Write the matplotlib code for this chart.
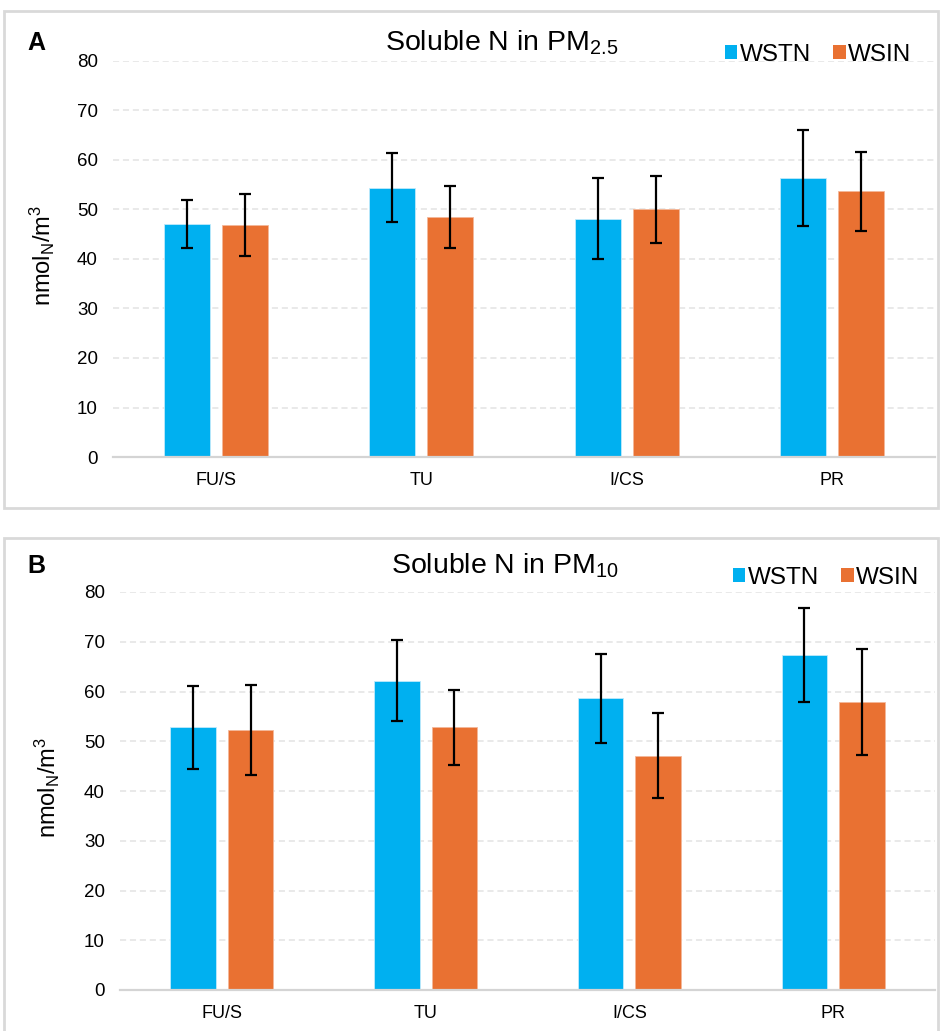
import matplotlib
matplotlib.use("Agg")
import matplotlib.pyplot as plt
from matplotlib.patches import Rectangle, Patch
import numpy as np

plt.rcParams['font.family'] = ['Liberation Sans', 'DejaVu Sans']
plt.rcParams['mathtext.fontset'] = 'custom'
plt.rcParams['mathtext.rm'] = 'Liberation Sans'
plt.rcParams['mathtext.it'] = 'Liberation Sans:italic'
plt.rcParams['mathtext.bf'] = 'Liberation Sans:bold'

# data
sites = ["FU/S", "TU", "I/CS", "PR"]
series = ["WSTN", "WSIN"]

wstn_pm25 = [47.1, 54.4, 48.1, 56.4]
wstn_pm25_err = [4.8, 7.0, 8.2, 9.7]
wsin_pm25 = [46.9, 48.5, 50.0, 53.7]
wsin_pm25_err = [6.3, 6.2, 6.8, 8.0]

wstn_pm10 = [52.8, 62.2, 58.6, 67.3]
wstn_pm10_err = [8.3, 8.1, 9.0, 9.4]
wsin_pm10 = [52.3, 52.8, 47.1, 57.9]
wsin_pm10_err = [9.0, 7.5, 8.6, 10.6]

blue = '#00B0F0'
orange = '#E97132'
W, H = 940, 1031

fig = plt.figure(figsize=(W / 100, H / 100), dpi=100)

# panel frames
for (x0, y0, x1, y1) in [(4, 11, 938, 508), (4, 538, 938, 1040)]:
    fig.patches.append(Rectangle((x0 / W, 1 - y1 / H), (x1 - x0) / W, (y1 - y0) / H,
                                 transform=fig.transFigure, fill=False,
                                 edgecolor='#d9d9d9', linewidth=2, zorder=0))


def panel(rect, wstn, wstn_err, wsin, wsin_err, letter, title, letter_xy,
          title_xy, legend_xy, ylabel_xy):
    ax = fig.add_axes(rect)
    x = np.arange(len(sites))
    bw, off = 0.224, 0.141
    ax.bar(x - off, wstn, bw, color=blue, edgecolor='#bfeafb', linewidth=0.6, zorder=2)
    ax.bar(x + off, wsin, bw, color=orange, edgecolor='#f4b89a', linewidth=0.6, zorder=2)
    for xs, v, e in [(x - off, wstn, wstn_err), (x + off, wsin, wsin_err)]:
        ax.errorbar(xs, v, yerr=e, fmt='none', ecolor='black', elinewidth=1.6,
                    capsize=4.3, capthick=1.6, zorder=3)
    ax.set_xlim(-0.5, len(sites) - 0.5)
    ax.set_ylim(0, 80)
    ax.set_yticks(range(0, 81, 10))
    ax.set_xticks(x)
    ax.set_xticklabels(sites, fontsize=13)
    ax.tick_params(axis='y', length=0, labelsize=13.5, pad=11)
    ax.tick_params(axis='x', length=0, pad=11)
    ax.yaxis.grid(True, color='#e3e3e3', linestyle=(0, (4, 2.5)), linewidth=1.1)
    ax.set_axisbelow(True)
    for s in ['top', 'right', 'left']:
        ax.spines[s].set_visible(False)
    ax.spines['bottom'].set_color('#d4d4d4')
    ax.spines['bottom'].set_linewidth(1.6)
    ax.spines['bottom'].set_zorder(4)

    fig.text(letter_xy[0] / W, 1 - letter_xy[1] / H, letter, fontsize=18,
             fontweight='bold', ha='center', va='center')
    fig.text(title_xy[0] / W, 1 - title_xy[1] / H, title, fontsize=20.5,
             ha='center', va='center')
    fig.text(ylabel_xy[0] / W, 1 - ylabel_xy[1] / H, 'nmol$_\\mathregular{N}$/m$^\\mathregular{3}$',
             fontsize=17, rotation=90, ha='center', va='center')
    handles = [Patch(facecolor=blue, label=series[0]), Patch(facecolor=orange, label=series[1])]
    fig.legend(handles=handles, loc='center',
               bbox_to_anchor=(legend_xy[0] / W, 1 - legend_xy[1] / H),
               ncol=2, frameon=False, fontsize=17.5, handlelength=0.52,
               handleheight=0.52, handletextpad=0.1, columnspacing=0.9)
    return ax


panel([113 / W, 1 - 457 / H, (935 - 113) / W, (457 - 61) / H],
      wstn_pm25, wstn_pm25_err, wsin_pm25, wsin_pm25_err,
      'A', 'Soluble N in PM$_\\mathregular{2.5}$', (36, 43), (502, 43), (818, 55), (42, 256))

panel([120 / W, 1 - 990 / H, (935 - 120) / W, (990 - 592) / H],
      wstn_pm10, wstn_pm10_err, wsin_pm10, wsin_pm10_err,
      'B', 'Soluble N in PM$_\\mathregular{10}$', (36, 566), (505, 566), (826, 578), (47, 788))

fig.savefig('out.png', dpi=100)
